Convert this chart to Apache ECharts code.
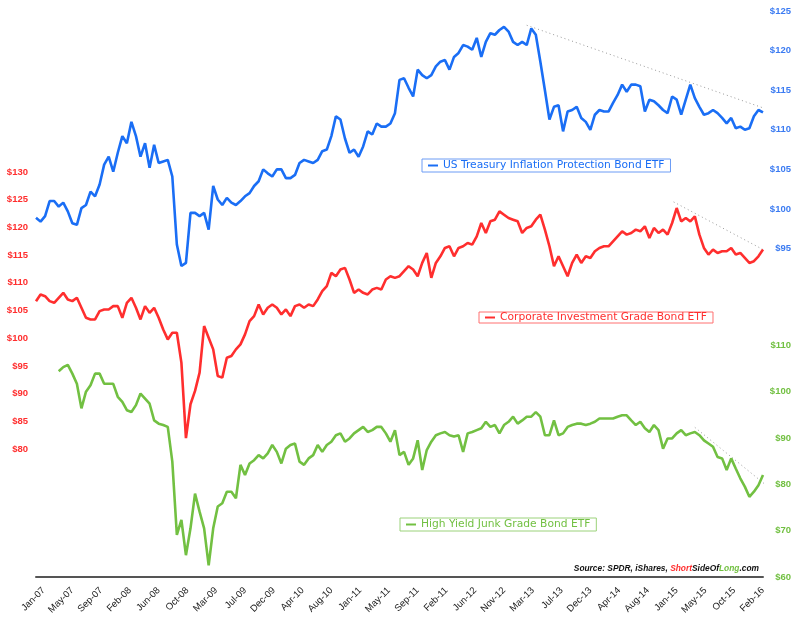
<!DOCTYPE html>
<html><head><meta charset="utf-8">
<script src="https://cdn.jsdelivr.net/npm/echarts@6/dist/echarts.min.js"></script>
<style>html,body{margin:0;padding:0;background:#fff}#c{width:800px;height:617px}</style>
</head><body><div id="c"></div>
<script>
// weekly sampling step of the value arrays (weeks since first week of Jan 2007)
const STEP_WEEKS = 3;
const LABEL_EVERY_WEEKS = 19;
const LABEL_SHIFT = 5;

const xLabels = ['Jan-07','May-07','Sep-07','Feb-08','Jun-08','Oct-08','Mar-09','Jul-09','Dec-09','Apr-10','Aug-10','Jan-11','May-11','Sep-11','Feb-11','Jun-12','Nov-12','Mar-13','Jul-13','Dec-13','Apr-14','Aug-14','Jan-15','May-15','Oct-15','Feb-16'];

const tipName = 'US Treasury Inflation Protection Bond ETF';
const lqdName = 'Corporate Investment Grade Bond ETF';
const hygName = 'High Yield Junk Grade Bond ETF';

const tipValues = [98.9,98.4,99.1,101.0,101.0,100.3,100.8,99.7,98.2,98.0,
100.1,100.5,102.2,101.6,103.1,105.6,106.6,104.7,107.1,109.2,
108.3,111.0,109.2,106.6,108.3,105.2,108.1,105.8,106.0,106.2,
104.1,95.5,92.8,93.2,99.5,99.5,99.1,99.5,97.4,102.9,
101.2,100.5,101.4,100.8,100.5,101.0,101.6,102.0,102.9,103.5,
105.0,104.5,104.1,105.0,105.0,103.9,103.9,104.3,105.8,106.2,
106.0,105.8,106.2,107.3,107.5,109.2,111.7,111.3,108.9,107.1,
107.5,106.6,107.9,109.8,109.4,110.8,110.4,110.4,110.8,112.1,
116.3,
116.5,115.3,114.2,117.6,116.9,116.5,116.9,118.0,118.6,118.8,
117.6,119.2,119.7,120.7,120.5,120.1,121.6,119.2,121.1,122.2,
122.0,122.6,123.0,122.4,121.1,120.7,121.1,120.7,122.8,122.0,
118.6,115.0,111.3,112.9,113.1,109.8,112.3,112.5,112.9,111.5,
111.0,110.0,111.9,112.5,112.3,112.3,113.4,114.4,115.7,114.8,
115.7,115.7,115.5,112.3,113.8,113.6,113.1,112.5,112.1,114.2,
113.8,111.9,113.8,115.7,114.0,112.9,111.9,112.1,112.5,112.1,
111.5,110.8,111.5,110.2,110.4,110.0,110.2,111.7,112.5,112.2];

const lqdValues = [106.7,107.9,107.6,106.7,106.4,107.3,108.2,107.0,106.7,107.3,
105.5,103.7,103.4,103.4,104.9,105.2,105.2,105.8,105.8,103.7,
106.4,107.3,105.5,103.4,105.8,104.6,105.5,103.7,101.6,99.8,
101.0,101.0,95.6,82.0,88.1,90.5,93.8,102.2,100.1,98.0,
93.2,92.9,96.5,96.8,98.0,98.9,100.7,103.1,104.0,106.1,
104.3,105.5,106.1,105.5,104.3,105.2,104.0,105.8,106.1,105.5,
106.1,105.8,107.0,108.5,109.4,111.8,111.2,112.4,112.7,110.6,
108.2,108.8,108.2,107.9,108.8,109.1,108.8,110.6,111.2,110.9,
111.2,
112.1,113.0,112.4,111.2,113.6,115.4,110.9,113.6,114.8,116.3,
116.6,114.8,116.3,116.6,117.2,116.9,118.4,120.8,119.0,121.1,
121.4,122.9,122.3,121.7,121.4,121.1,119.0,119.9,120.2,121.4,
122.3,119.6,116.6,113.0,114.8,113.0,111.2,113.6,115.1,113.6,
114.8,114.5,115.7,116.3,116.6,116.6,117.5,118.4,119.3,118.7,
119.0,119.6,119.3,120.2,118.1,119.9,119.0,119.6,118.7,120.8,
123.5,121.1,121.7,121.1,122.0,118.7,116.3,115.1,116.0,115.4,
115.7,115.7,116.3,115.1,115.4,114.5,113.6,113.9,114.8,116.0];

const hygValues = [null,null,null,null,null,104.4,105.3,105.8,103.9,101.7,
96.4,100.0,101.4,103.9,103.9,101.7,101.7,101.7,98.9,97.8,
96.0,95.6,97.1,99.6,98.5,97.4,93.8,93.1,92.8,92.4,
84.9,69.1,72.3,64.7,70.5,78.0,74.1,70.5,62.5,70.5,
75.2,75.9,78.4,78.4,77.0,84.2,82.0,84.5,85.2,86.3,
85.6,86.7,88.5,87.0,84.5,87.7,88.5,88.8,84.9,84.2,
85.6,86.3,88.5,87.0,88.5,89.2,90.6,91.0,89.2,89.9,
91.0,91.7,92.4,91.3,91.7,92.4,92.4,91.0,89.2,91.7,
86.3,
87.0,84.2,85.6,89.5,83.1,87.4,89.2,90.6,91.0,91.3,
90.6,90.3,90.6,87.0,91.0,91.3,91.7,92.1,93.5,92.4,
92.8,91.0,92.8,93.5,94.6,93.1,93.8,94.6,94.6,95.6,
94.6,90.6,90.6,93.8,90.6,91.0,92.4,92.8,93.1,93.1,
92.8,93.1,93.5,94.2,94.2,94.2,94.2,94.6,94.9,94.9,
93.8,92.8,93.5,92.1,91.3,92.8,91.7,87.7,89.9,89.9,
91.0,91.7,90.6,91.0,91.3,90.6,89.5,88.8,88.1,85.9,
85.6,83.1,85.6,83.4,81.3,79.5,77.3,78.4,79.8,82.0];

// dotted trend lines: [week, price]
const tipTrend = [[324, 123.2], [493, 111.9]];
const lqdTrend = [[421, 124.6], [489, 114.7]];
const hygTrend = [[435, 92.3], [487, 78.5]];

const redTicks = [80, 85, 90, 95, 100, 105, 110, 115, 120, 125, 130];
const blueTicks = [95, 100, 105, 110, 115, 120, 125];
const greenTicks = [60, 70, 80, 90, 100, 110];

const BLUE = '#1a6ef5', RED = '#ff2e2e', GREEN = '#72c042';
const toPairs = arr => arr.map((v, i) => [i * STEP_WEEKS, v]);
const labelPos = xLabels.map((_, i) => i * LABEL_EVERY_WEEKS + LABEL_SHIFT);

const yLab = (color) => ({
  color: color, fontSize: 9.5, fontFamily: 'Liberation Sans', fontWeight: 'bold',
  formatter: v => '$' + v
});

const chart = echarts.init(document.getElementById('c'), null, {renderer: 'canvas'});
chart.setOption({
  animation: false,
  backgroundColor: '#fff',
  grid: {left: 36, right: 37, top: 11, bottom: 39, containLabel: false},
  xAxis: {
    type: 'value', min: 0, max: 480,
    axisLine: {show: true, lineStyle: {color: '#555', width: 2}},
    axisTick: {show: false}, splitLine: {show: false},
    axisLabel: {
      customValues: labelPos, rotate: 45, margin: 12,
      fontSize: 9.5, fontFamily: 'Liberation Sans', color: '#1a1a1a',
      formatter: v => xLabels[Math.round((v - LABEL_SHIFT) / LABEL_EVERY_WEEKS)] || ''
    }
  },
  yAxis: [
    {type: 'value', position: 'left', min: 56.94, max: 159.05,
     axisLine: {show: false}, axisTick: {show: false}, splitLine: {show: false},
     axisLabel: Object.assign(yLab(RED), {customValues: redTicks, margin: 8})},
    {type: 'value', position: 'right', min: 53.53, max: 125,
     axisLine: {show: false}, axisTick: {show: false}, splitLine: {show: false},
     axisLabel: Object.assign(yLab('#3b7bf2'), {customValues: blueTicks, margin: 28, align: 'right'})},
    {type: 'value', position: 'right', min: 60, max: 182.2,
     axisLine: {show: false}, axisTick: {show: false}, splitLine: {show: false},
     axisLabel: Object.assign(yLab(GREEN), {customValues: greenTicks, margin: 28, align: 'right'})}
  ],
  legend: [
    {data: [tipName], left: 422, top: 159, icon: 'rect', itemWidth: 10, itemHeight: 2, itemGap: 0,
     padding: [1, 6, 1, 6], borderColor: '#6c9cf5', borderWidth: 1, selectedMode: false,
     textStyle: {color: BLUE, fontSize: 10.7, fontFamily: 'DejaVu Sans'}},
    {data: [lqdName], left: 479, top: 312, icon: 'rect', itemWidth: 10, itemHeight: 2,
     padding: [0, 6, 0, 6], borderColor: '#ff7070', borderWidth: 1, selectedMode: false,
     textStyle: {color: RED, fontSize: 10.7, fontFamily: 'DejaVu Sans'}},
    {data: [hygName], left: 400, top: 518, icon: 'rect', itemWidth: 10, itemHeight: 2,
     padding: [1, 6, 1, 6], borderColor: '#9bd27a', borderWidth: 1, selectedMode: false,
     textStyle: {color: GREEN, fontSize: 10.7, fontFamily: 'DejaVu Sans'}}
  ],
  graphic: [{
    type: 'text', x: 759, y: 569,
    style: {
      text: '{a|Source: SPDR, iShares, }{r|Short}{a|SideOf}{g|Long}{a|.com}',
      align: 'right', verticalAlign: 'middle',
      rich: {
        a: {fill: '#111', fontSize: 8.4, fontStyle: 'italic', fontWeight: 'bold', fontFamily: 'Liberation Sans'},
        r: {fill: RED, fontSize: 8.4, fontStyle: 'italic', fontWeight: 'bold', fontFamily: 'Liberation Sans'},
        g: {fill: GREEN, fontSize: 8.4, fontStyle: 'italic', fontWeight: 'bold', fontFamily: 'Liberation Sans'}
      }
    }
  }],
  series: [
    {name: hygName, type: 'line', yAxisIndex: 2, data: toPairs(hygValues), showSymbol: false, symbol: 'none',
     lineStyle: {color: GREEN, width: 2.6}, itemStyle: {color: GREEN}, connectNulls: false},
    {name: lqdName, type: 'line', yAxisIndex: 0, data: toPairs(lqdValues), showSymbol: false, symbol: 'none',
     lineStyle: {color: RED, width: 2.6}, itemStyle: {color: RED}},
    {name: tipName, type: 'line', yAxisIndex: 1, data: toPairs(tipValues), showSymbol: false, symbol: 'none',
     lineStyle: {color: BLUE, width: 2.6}, itemStyle: {color: BLUE}},
    {name: 'tipTrend', type: 'line', yAxisIndex: 1, data: tipTrend, symbol: 'none', clip: false,
     lineStyle: {color: '#999', width: 1, type: [1, 3]}, z: 1},
    {name: 'lqdTrend', type: 'line', yAxisIndex: 0, data: lqdTrend, symbol: 'none', clip: false,
     lineStyle: {color: '#999', width: 1, type: [1, 3]}, z: 1},
    {name: 'hygTrend', type: 'line', yAxisIndex: 2, data: hygTrend, symbol: 'none', clip: false,
     lineStyle: {color: '#999', width: 1, type: [1, 3]}, z: 1}
  ]
});
</script></body></html>
